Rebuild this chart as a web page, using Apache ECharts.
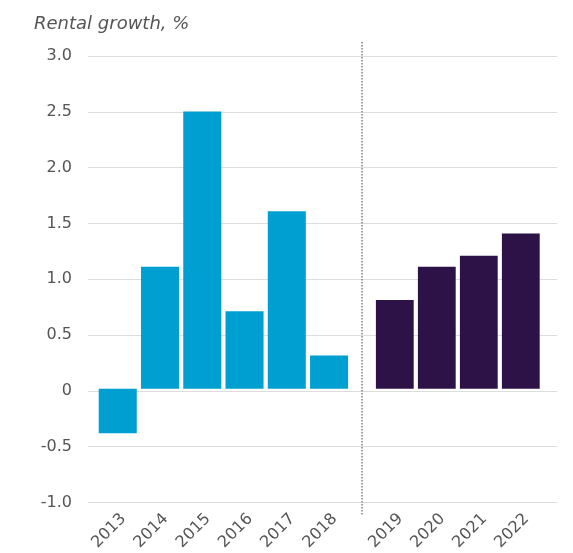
<!DOCTYPE html>
<html>
<head>
<meta charset="utf-8">
<style>
  html, body { margin: 0; padding: 0; background: #fff; }
  #chart { width: 573px; height: 553px; }
</style>
<script src="https://cdn.jsdelivr.net/npm/echarts@6/dist/echarts.min.js"></script>
</head>
<body>
<div id="chart"></div>
<script>
// Actual rental growth (2013-2018) and forecast (2019-2022), % per year
const actualYears = ['2013', '2014', '2015', '2016', '2017', '2018'];
const actualGrowth = [-0.4, 1.1, 2.5, 0.7, 1.6, 0.3];
const forecastYears = ['2019', '2020', '2021', '2022'];
const forecastGrowth = [0.8, 1.1, 1.2, 1.4];
const yTicks = { min: -1, max: 3, step: 0.5 };

const FONT = '"DejaVu Sans", sans-serif';
const TEXT = '#555555';
const W = 573;
const plotTop = 56, plotBottom = 50.5;

// Horizontal layout of the panels (px)
const bgLeft = 88, bgRight = 557;
const leftPanel = { left: 96.6, width: 253.6 };
const rightPanel = { left: 373.8, width: 168 };
const dividerX = 362;

const chart = echarts.init(document.getElementById('chart'), null, { renderer: 'canvas' });

const yBase = {
  type: 'value',
  min: yTicks.min,
  max: yTicks.max,
  interval: yTicks.step
};

const catAxis = (gridIndex, data) => ({
  type: 'category',
  gridIndex,
  data,
  axisLine: { show: false },
  axisTick: { show: false },
  axisLabel: {
    rotate: 45,
    margin: 11,
    verticalAlign: 'top',
    color: TEXT,
    fontFamily: FONT,
    fontSize: 16,
    interval: 0
  }
});

chart.setOption({
  animation: false,
  backgroundColor: '#ffffff',
  title: {
    text: 'Rental growth, %',
    left: 29,
    top: 10,
    textStyle: {
      color: TEXT,
      fontFamily: FONT,
      fontStyle: 'italic',
      fontWeight: 'normal',
      fontSize: 18
    }
  },
  grid: [
    { left: leftPanel.left, width: leftPanel.width, top: plotTop, bottom: plotBottom },
    { left: rightPanel.left, width: rightPanel.width, top: plotTop, bottom: plotBottom },
    { left: bgLeft, right: W - bgRight, top: plotTop, bottom: plotBottom }
  ],
  xAxis: [
    catAxis(0, actualYears),
    catAxis(1, forecastYears),
    { type: 'value', gridIndex: 2, show: false, min: 0, max: 1 }
  ],
  yAxis: [
    Object.assign({}, yBase, { gridIndex: 0, show: false, splitLine: { show: false } }),
    Object.assign({}, yBase, { gridIndex: 1, show: false, splitLine: { show: false } }),
    Object.assign({}, yBase, {
      gridIndex: 2,
      axisLine: { show: false },
      axisTick: { show: false },
      axisLabel: {
        margin: 16,
        color: TEXT,
        fontFamily: FONT,
        fontSize: 16,
        formatter: v => (v === 0 ? '0' : v.toFixed(1))
      },
      splitLine: { show: true, lineStyle: { color: '#dddddd', width: 1 } }
    })
  ],
  series: [
    {
      name: 'Actual',
      type: 'bar',
      xAxisIndex: 0,
      yAxisIndex: 0,
      data: actualGrowth,
      barCategoryGap: '10%',
      itemStyle: { color: '#009fd1' },
      z: 3
    },
    {
      name: 'Forecast',
      type: 'bar',
      xAxisIndex: 1,
      yAxisIndex: 1,
      data: forecastGrowth,
      barCategoryGap: '10%',
      itemStyle: { color: '#2d1248' },
      z: 3
    }
  ],
  graphic: [
    {
      type: 'line',
      shape: { x1: dividerX, y1: 42, x2: dividerX, y2: 515 },
      style: { stroke: '#808080', lineWidth: 1.5, lineDash: [1.5, 1.5] },
      z: 5
    }
  ]
});
</script>
</body>
</html>
